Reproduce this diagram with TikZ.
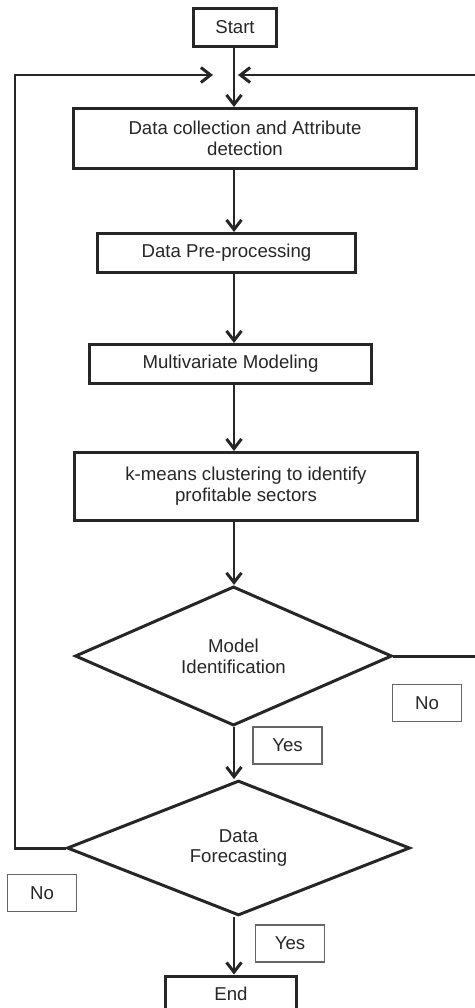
\documentclass[tikz,border=0pt]{standalone}
\usepackage{fontspec}
\setmainfont{Liberation Sans}
\usetikzlibrary{shapes.geometric,arrows.meta}

\begin{document}
\begin{tikzpicture}[x=0.02cm,y=-0.02cm,
  font=\fontsize{10.6pt}{11.9pt}\selectfont,
  line width=1.7pt,color=black!85,
  stepbox/.style={draw,rectangle,align=center,inner sep=0pt},
  decision/.style={draw,diamond,align=center,inner sep=0pt},
  answer/.style={draw=black!60,line width=0.7pt,rectangle,
    minimum width=1.38cm,minimum height=0.74cm,inner sep=0pt},
  flow/.style={-{Straight Barb[length=5.5pt,width=8.5pt]}}]
\useasboundingbox (0,0) rectangle (475,1008);
\node[stepbox,minimum width=1.66cm,minimum height=0.76cm] (start) at (235,27.5) {Start};
\node[stepbox,minimum width=6.86cm,minimum height=1.2cm] (collect) at (245,138.5)
  {Data collection and Attribute\\detection};
\node[stepbox,minimum width=5.16cm,minimum height=0.78cm] (prep) at (226.5,253) {Data Pre-processing};
\node[stepbox,minimum width=5.64cm,minimum height=0.78cm] (model) at (230.5,364) {Multivariate Modeling};
\node[stepbox,minimum width=6.86cm,minimum height=1.36cm] (kmeans) at (246,486.5)
  {k-means clustering to identify\\profitable sectors};
\node[decision,minimum width=6.34cm,minimum height=2.58cm] (ident) at (233.5,656)
  {Model\\Identification};
\node[decision,minimum width=6.86cm,minimum height=2.62cm] (fcast) at (238.5,848)
  {Data\\Forecasting};
\node[stepbox,minimum width=2.62cm,minimum height=0.72cm] (end) at (231,994) {End};
\node[answer] (yesA) at (287.5,745.5) {Yes};
\node[answer] (noA) at (427,703) {No};
\node[answer] (noB) at (42,893) {No};
\node[answer] (yesB) at (290,943.5) {Yes};
\coordinate (axis) at (234,0);
\coordinate (join) at (234,75);
\coordinate (lft) at (15,0);
\coordinate (rgt) at (479,0);
\draw[flow] (axis |- start.south) -- (axis |- collect.north);
\draw[flow] (axis |- collect.south) -- (axis |- prep.north);
\draw[flow] (axis |- prep.south) -- (axis |- model.north);
\draw[flow] (axis |- model.south) -- (axis |- kmeans.north);
\draw[flow] (axis |- kmeans.south) -- (axis |- ident.north);
\draw[flow] (axis |- ident.south) -- (axis |- fcast.north);
\draw[flow] (axis |- fcast.south) -- (axis |- end.north);
\draw[flow] (fcast.west) -- (fcast.west -| lft) |- ([xshift=-0.42cm]join);
\draw[flow] (ident.east) -- (ident.east -| rgt) |- ([xshift=0.08cm]join);
\end{tikzpicture}
\end{document}
